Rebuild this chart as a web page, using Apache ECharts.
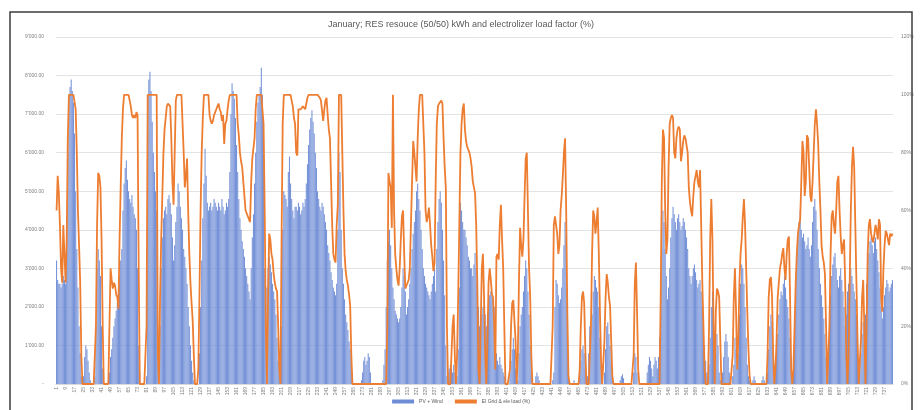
<!DOCTYPE html>
<html><head><meta charset="utf-8">
<script src="https://cdn.jsdelivr.net/npm/echarts@6/dist/echarts.min.js"></script>
<style>html,body{margin:0;padding:0;background:#fff}#c{width:922px;height:410px}</style>
</head><body><div id="c"></div>
<script>
const title = "January; RES resouce (50/50) kWh and electrolizer load factor (%)";
const seriesNames = ["PV + Wind", "El Grid & ele load (%)"];
const leftTicks = [0, 1000, 2000, 3000, 4000, 5000, 6000, 7000, 8000, 9000];
const rightTicks = [0, 20, 40, 60, 80, 100, 120];
const hours = Array.from({length: 744}, (_, i) => String(i + 1));

const resKWh = [
3200,2700,2600,2600,2500,2600,2800,2700,2600,3500,6000,7500,7700,7900,7600,7300,6500,5000,3500,2500,1500,800,200,0,
200,700,1000,900,600,300,100,0,0,0,200,1500,3000,3500,3200,2800,1500,400,0,0,0,0,100,300,
700,900,1200,1500,1700,1900,2100,2400,2800,3200,3500,4500,5200,5600,5800,5300,5000,4800,4700,4900,4600,4400,4300,4000,
3000,1000,300,0,0,0,0,0,200,6500,7900,8100,7600,6800,6000,5500,5000,4500,1500,0,1500,3000,3800,4300,
4500,4600,4400,4800,4900,4700,4400,3800,3200,3600,4200,4600,5200,5000,4600,4300,4000,3500,3300,3000,2600,2000,1500,1000,
600,300,100,0,0,0,0,800,2000,3200,4300,5200,6100,5400,4700,4500,4600,4700,4500,4600,4800,4700,4600,4500,
4700,4600,4500,4800,4600,4400,4500,4700,4600,4800,5500,7000,7800,7600,7400,6900,6200,5500,4800,4300,4000,3700,3500,3300,
3000,2800,2600,2400,2200,3000,3800,4400,5200,6000,6800,7300,7500,7700,8200,7500,6000,3000,1500,2500,3000,3300,3100,2900,
2600,2400,2200,1800,1200,600,200,0,1500,4000,5000,4900,4800,4600,5500,5900,5200,4800,4500,4300,4600,4600,4500,4700,
4600,4400,4500,4700,4600,4800,5200,5700,6200,6600,6900,7100,6800,6500,6000,5600,5000,4800,4600,4500,4700,4600,4400,4200,
4000,3600,3400,3200,2900,2700,2500,2400,2300,2600,4000,6000,5500,4000,3000,2600,2200,1800,1600,1400,1100,900,600,300,
0,0,0,0,0,0,0,100,300,600,700,500,600,800,700,300,0,0,0,0,0,0,0,0,
0,0,100,500,900,2000,3200,3700,4000,3600,3000,2500,2200,1900,1800,1700,1600,1700,2000,2500,3000,2800,2400,1800,
2000,2200,2600,3000,3500,3900,4200,4500,5000,5200,4800,4500,4000,3500,3000,2800,2600,2500,2400,2300,2200,2400,2600,2800,
3000,2400,3500,4200,4800,5000,4700,4000,3200,2300,1000,200,300,400,500,400,300,500,300,100,200,900,2500,4700,
4500,4200,4000,4000,3800,3600,3300,3200,3000,3000,2800,3100,3400,3000,2500,2000,1500,1400,1800,2000,2200,1800,1500,1800,
2100,2300,2400,2300,2200,2000,1500,800,600,500,700,500,400,300,200,100,0,0,0,300,600,900,1200,900,
400,0,100,800,1500,1800,2000,2400,2800,3200,3000,2400,1800,1000,300,100,0,0,200,300,200,100,0,0,
0,0,0,0,0,0,0,0,0,100,300,2000,2700,2600,2300,2100,2200,2500,3000,3600,4200,3800,2000,500,
0,0,0,0,100,0,0,0,0,200,600,900,1000,800,400,100,200,800,1500,1400,1800,2400,2800,2700,
2500,2400,2000,1200,500,100,0,300,900,1500,1600,1300,1000,600,200,0,0,0,0,0,0,100,200,250,
150,0,0,0,0,0,0,0,0,300,800,700,300,0,0,0,0,0,0,0,0,300,500,700,
600,400,200,500,700,600,400,700,1200,2000,3500,4500,4200,3500,2800,2200,2500,3000,3800,4300,4600,4400,4200,4000,
4300,4400,4200,4000,4100,4300,4200,4000,3800,3500,3000,2800,2600,2800,3000,3100,2900,2700,2500,2600,2700,2400,2000,1500,
1000,600,300,200,500,1200,2000,2400,1500,400,800,1300,1000,300,100,0,300,700,1100,1300,1100,700,300,100,
0,200,500,1200,900,400,800,1800,2600,3100,3000,2600,2000,1200,500,200,100,0,0,100,200,100,0,0,
0,0,0,100,200,100,0,0,300,900,1500,1800,1600,1000,500,300,800,1300,1800,2200,2400,2300,2600,2800,
2500,2200,2000,1700,1200,700,300,800,1800,2800,3400,3800,4200,4500,4000,3800,3900,3700,3500,3600,3800,3500,3300,3600,
4200,4600,4800,4500,4000,3500,3000,2600,2300,2000,1700,1300,700,200,600,1500,2300,2800,3100,3300,3400,3000,2700,2500,
2800,3000,2700,2400,2000,1500,1800,2400,2600,2900,3000,2800,2600,2400,2200,1800,1200,500,300,800,1300,1600,1000,1800,
2600,3000,3400,3700,3800,3600,3400,3700,3800,3500,3200,2900,2500,2000,1700,2000,2300,2500,2700,2600,2400,2500,2600,2700
];

const loadPct = [
60,72,66,55,40,35,55,45,35,50,85,100,100,100,100,100,100,95,80,60,48,35,10,0,
0,0,0,0,0,0,0,0,0,0,0,20,55,73,72,68,50,20,0,0,0,0,0,0,
40,36,33,35,34,31,30,26,50,68,85,95,100,100,100,100,100,100,96,93,92,93,92,94,
93,40,0,0,0,0,0,0,20,100,100,100,100,100,100,100,100,100,10,0,30,50,65,80,
88,92,96,97,97,96,85,70,62,80,98,100,100,100,100,100,100,80,68,72,78,60,45,35,
28,22,10,0,0,0,5,30,60,80,92,100,100,100,100,100,93,91,90,91,93,94,95,96,
97,95,94,91,93,83,90,91,95,98,100,100,100,100,100,100,100,90,86,80,77,75,70,65,
60,59,58,57,56,70,78,78,85,95,100,100,100,100,100,100,90,60,20,0,30,52,50,45,
43,38,35,33,32,20,5,0,50,90,100,100,100,100,100,100,100,98,96,92,90,80,79,95,
95,95,95,96,96,95,97,99,100,100,100,100,100,100,100,100,100,100,99,98,98,91,95,98,
99,93,88,85,70,55,45,43,42,55,62,100,100,100,100,60,45,39,36,34,31,27,10,0,
0,0,0,0,0,0,0,0,0,0,0,0,0,0,0,0,0,0,0,0,0,0,0,0,
0,0,0,0,0,0,20,73,70,68,54,100,60,45,40,36,34,40,50,58,60,45,33,34,
35,36,40,55,70,84,80,75,70,85,95,100,100,100,100,80,60,56,58,61,55,48,44,39,
42,70,90,96,97,97,98,97,85,75,68,20,0,0,0,0,20,24,10,0,10,30,55,80,
90,95,97,88,84,82,81,80,78,75,70,68,66,55,35,5,0,20,40,45,30,10,0,15,
35,40,36,31,30,20,5,44,45,43,55,62,50,40,20,0,0,0,0,5,20,28,29,29,
15,0,10,35,54,48,44,50,65,78,80,60,40,30,10,0,0,0,0,0,0,0,0,0,
0,0,0,0,0,0,0,0,0,20,55,58,55,52,45,48,60,65,72,80,85,60,25,3,
0,0,0,0,0,0,0,0,0,5,20,30,32,28,12,0,0,0,0,20,45,60,58,52,
56,61,45,25,8,0,0,15,30,38,35,30,27,15,3,0,0,0,0,0,0,0,0,0,
0,0,0,0,0,0,0,0,0,10,35,42,25,5,0,0,0,0,0,0,0,0,0,0,
0,0,0,0,0,0,0,0,0,30,70,88,85,60,45,50,75,90,92,93,92,80,78,85,
88,89,88,77,80,84,86,85,85,80,68,63,60,58,65,70,72,74,70,68,74,55,35,20,
5,0,0,0,20,50,64,50,20,0,25,33,32,30,15,0,0,0,0,0,0,0,0,0,
0,10,30,40,25,5,15,35,45,50,58,64,55,40,25,12,3,0,0,0,0,0,0,0,
0,0,0,0,0,0,0,0,10,30,36,37,30,10,0,5,15,30,35,40,42,45,47,40,
36,45,50,51,30,5,0,5,20,35,45,52,55,57,70,84,80,65,70,86,85,75,65,63,
70,80,90,95,90,83,70,60,48,44,42,38,20,0,0,20,45,58,60,55,52,60,70,72,
60,51,45,48,50,35,10,0,10,35,60,75,82,75,55,35,15,0,0,15,30,36,20,0,
20,45,55,57,52,50,49,52,55,53,50,57,55,30,25,40,48,53,52,50,48,52,51,52
];

function fmtLeft(v) {
  if (v === 0) return '-';
  const s = String(Math.round(v));
  return s.replace(/\B(?=(\d{3})+(?!\d))/g, "'") + '.00';
}

const chart = echarts.init(document.getElementById('c'), null, {renderer: 'canvas'});
const font = 'Liberation Sans';
chart.setOption({
  animation: false,
  backgroundColor: '#ffffff',
  textStyle: {fontFamily: font},
  title: {
    text: title, left: 'center', top: 15,
    textStyle: {fontSize: 9, fontWeight: 'normal', color: '#595959', fontFamily: font}
  },
  graphic: [{
    type: 'rect', silent: true, z: 100,
    shape: {x: 10, y: 12, width: 902, height: 420},
    style: {fill: 'none', stroke: '#3c3c3c', lineWidth: 1.5}
  }],
  legend: {
    bottom: 1, left: 'center', itemWidth: 22, itemHeight: 4, itemGap: 12,
    textStyle: {fontSize: 5, color: '#595959'},
    data: [
      {name: seriesNames[0], icon: 'rect'},
      {name: seriesNames[1], icon: 'rect'}
    ]
  },
  grid: {left: 56, right: 29, top: 37, bottom: 26, containLabel: false},
  xAxis: {
    type: 'category', data: hours, boundaryGap: true,
    axisLine: {show: true, lineStyle: {color: '#d9d9d9'}},
    axisTick: {show: false},
    axisLabel: {interval: 7, rotate: 90, fontSize: 5, color: '#7f7f7f', margin: 3}
  },
  yAxis: [{
    type: 'value', min: leftTicks[0], max: leftTicks[leftTicks.length - 1], interval: 1000,
    axisLine: {show: false}, axisTick: {show: false},
    splitLine: {lineStyle: {color: '#e3e3e3', width: 1}},
    axisLabel: {fontSize: 5, color: '#7f7f7f', formatter: fmtLeft, margin: 12}
  }, {
    type: 'value', min: rightTicks[0], max: rightTicks[rightTicks.length - 1], interval: 20,
    axisLine: {show: false}, axisTick: {show: false}, splitLine: {show: false},
    axisLabel: {fontSize: 5, color: '#7f7f7f', formatter: v => v + '%', margin: 8}
  }],
  series: [{
    name: seriesNames[0], type: 'bar', data: resKWh, yAxisIndex: 0,
    barCategoryGap: '45%',
    itemStyle: {color: '#6f8dd6'}
  }, {
    name: seriesNames[1], type: 'line', data: loadPct, yAxisIndex: 1,
    showSymbol: false, symbol: 'none',
    lineStyle: {color: '#ed7d31', width: 1.8},
    itemStyle: {color: '#ed7d31'}, z: 5
  }]
});
</script></body></html>
